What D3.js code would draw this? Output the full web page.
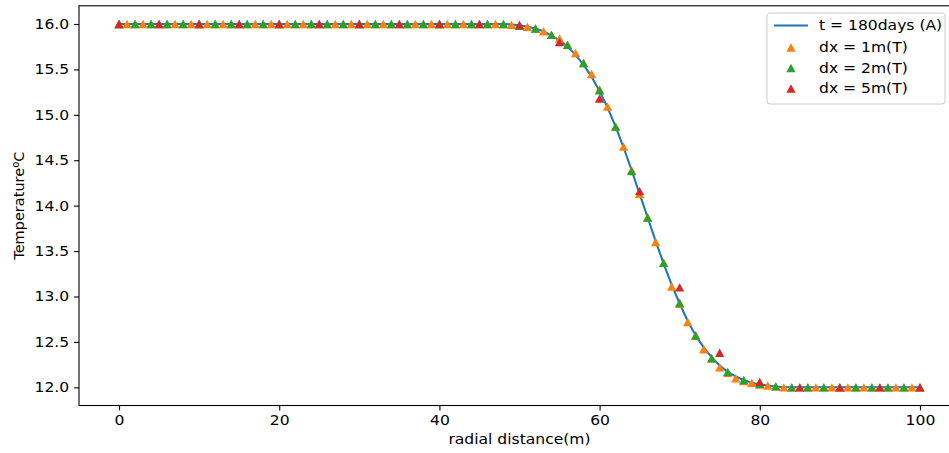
<!DOCTYPE html>
<html>
<head>
<meta charset="utf-8">
<script src="https://cdn.jsdelivr.net/npm/d3@7"></script>
<style>
  body { margin: 0; background: #fff; }
  svg { display: block; }
  text { font-family: "DejaVu Sans", sans-serif; }
</style>
</head>
<body>
<svg id="chart" width="949" height="453"></svg>
<script>
// radial distance grids (m)
var xAnalytic = d3.range(0, 101, 1);
var xDx1 = d3.range(0, 101, 1);
var xDx2 = d3.range(0, 101, 2);
var xDx5 = d3.range(0, 101, 5);

// t = 180days (A)
var analytic = [
  16.0, 16.0, 16.0, 16.0, 16.0, 16.0, 16.0, 16.0, 16.0, 16.0,
  16.0, 16.0, 16.0, 16.0, 16.0, 16.0, 16.0, 16.0, 16.0, 16.0,
  16.0, 16.0, 16.0, 16.0, 16.0, 16.0, 16.0, 16.0, 16.0, 16.0,
  16.0, 16.0, 16.0, 16.0, 16.0, 16.0, 16.0, 16.0, 16.0, 16.0,
  16.0, 16.0, 16.0, 16.0, 16.0, 16.0, 16.0, 16.0, 16.0, 15.995,
  15.985, 15.97, 15.95, 15.92, 15.87, 15.82, 15.75, 15.66, 15.55, 15.42,
  15.26, 15.08, 14.87, 14.64, 14.39, 14.13, 13.87, 13.61, 13.36, 13.13,
  12.92, 12.73, 12.57, 12.44, 12.33, 12.24, 12.17, 12.12, 12.08, 12.05,
  12.03, 12.02, 12.01, 12.0, 12.0, 12.0, 12.0, 12.0, 12.0, 12.0,
  12.0, 12.0, 12.0, 12.0, 12.0, 12.0, 12.0, 12.0, 12.0, 12.0,
  12.0
];
// dx = 1m(T)
var dx1 = [
  16.0, 16.0, 16.0, 16.0, 16.0, 16.0, 16.0, 16.0, 16.0, 16.0,
  16.0, 16.0, 16.0, 16.0, 16.0, 16.0, 16.0, 16.0, 16.0, 16.0,
  16.0, 16.0, 16.0, 16.0, 16.0, 16.0, 16.0, 16.0, 16.0, 16.0,
  16.0, 16.0, 16.0, 16.0, 16.0, 16.0, 16.0, 16.0, 16.0, 16.0,
  16.0, 16.0, 16.0, 16.0, 16.0, 16.0, 16.0, 16.0, 16.0, 15.99,
  15.98, 15.97, 15.95, 15.92, 15.88, 15.84, 15.77, 15.68, 15.57, 15.45,
  15.28, 15.09, 14.87, 14.65, 14.39, 14.13, 13.87, 13.6, 13.37, 13.11,
  12.92, 12.72, 12.57, 12.42, 12.32, 12.22, 12.16, 12.1, 12.07, 12.05,
  12.03, 12.02, 12.01, 12.0, 12.0, 12.0, 12.0, 12.0, 12.0, 12.0,
  12.0, 12.0, 12.0, 12.0, 12.0, 12.0, 12.0, 12.0, 12.0, 12.0,
  12.0
];
// dx = 2m(T)
var dx2 = [
  16.0, 16.0, 16.0, 16.0, 16.0, 16.0, 16.0, 16.0, 16.0, 16.0,
  16.0, 16.0, 16.0, 16.0, 16.0, 16.0, 16.0, 16.0, 16.0, 16.0,
  16.0, 16.0, 16.0, 16.0, 16.0, 15.98, 15.95, 15.88, 15.77, 15.57,
  15.27, 14.87, 14.38, 13.87, 13.37, 12.93, 12.57, 12.32, 12.17, 12.08,
  12.04, 12.01, 12.0, 12.0, 12.0, 12.0, 12.0, 12.0, 12.0, 12.0,
  12.0
];
// dx = 5m(T)
var dx5 = [
  16.0, 16.0, 16.0, 16.0, 16.0, 16.0, 16.0, 16.0, 16.0, 16.0,
  15.99, 15.8, 15.18, 14.16, 13.1, 12.38, 12.06, 12.0, 12.0, 12.0,
  12.0
];

var xTicks = [0, 20, 40, 60, 80, 100];
var yTicks = [12.0, 12.5, 13.0, 13.5, 14.0, 14.5, 15.0, 15.5, 16.0];
var legendLabels = ['t = 180days (A)', 'dx = 1m(T)', 'dx = 2m(T)', 'dx = 5m(T)'];

var colors = ['#1f77b4', '#ff7f0e', '#2ca02c', '#d62728'];
var fontSize = 13.9;
var stretch = 1.12; // the reference is a bit wider than tall

var plotLeft = 79, plotRight = 960, plotTop = 5.8, plotBottom = 405.5;

var svg = d3.select('#chart');

var x = d3.scaleLinear().domain([-5, 105]).range([plotLeft, plotRight]);
var y = d3.scaleLinear().domain([11.8, 16.2]).range([plotBottom, plotTop]);

// analytic curve
var line = d3.line()
  .x(function(d) { return x(d[0]); })
  .y(function(d) { return y(d[1]); });

svg.append('path')
  .datum(d3.zip(xAnalytic, analytic))
  .attr('d', line)
  .attr('fill', 'none')
  .attr('stroke', colors[0])
  .attr('stroke-width', 2.08)
  .attr('stroke-linejoin', 'round')
  .attr('stroke-linecap', 'square');

var triW = 4.6, triH = 4.2;
function triangle(cx, cy) {
  return 'M' + cx + ',' + (cy - triH) +
    'L' + (cx + triW) + ',' + (cy + triH) +
    'L' + (cx - triW) + ',' + (cy + triH) + 'Z';
}

var markerSets = [
  { xs: xDx1, ys: dx1, color: colors[1] },
  { xs: xDx2, ys: dx2, color: colors[2] },
  { xs: xDx5, ys: dx5, color: colors[3] }
];

markerSets.forEach(function(s) {
  svg.append('g')
    .selectAll('path')
    .data(d3.zip(s.xs, s.ys))
    .enter()
    .append('path')
    .attr('d', function(d) { return triangle(x(d[0]), y(d[1])); })
    .attr('fill', s.color);
});

// axes
var xAxis = svg.append('g')
  .attr('class', 'stretch')
  .attr('transform', 'translate(0,' + plotBottom + ')')
  .call(d3.axisBottom(x).tickValues(xTicks).tickFormat(d3.format('d'))
    .tickSize(4.9).tickPadding(4.9).tickSizeOuter(0));

var yAxis = svg.append('g')
  .attr('class', 'stretch')
  .attr('transform', 'translate(' + plotLeft + ',0)')
  .call(d3.axisLeft(y).tickValues(yTicks).tickFormat(d3.format('.1f'))
    .tickSize(4.9).tickPadding(4.9).tickSizeOuter(0));

[xAxis, yAxis].forEach(function(a) {
  a.select('.domain').remove();
  a.selectAll('line').attr('stroke', '#000').attr('stroke-width', 1.1);
  a.selectAll('text')
    .attr('fill', '#000')
    .style('font-size', fontSize + 'px')
    .style('font-family', '"DejaVu Sans", sans-serif');
});

// spines
svg.append('rect')
  .attr('x', plotLeft)
  .attr('y', plotTop)
  .attr('width', plotRight - plotLeft)
  .attr('height', plotBottom - plotTop)
  .attr('fill', 'none')
  .attr('stroke', '#000')
  .attr('stroke-width', 1.1);

// axis labels
svg.append('text')
  .attr('class', 'wide')
  .attr('x', (plotLeft + plotRight) / 2)
  .attr('y', 444)
  .attr('text-anchor', 'middle')
  .style('font-size', fontSize + 'px')
  .text('radial distance(m)');

var yl = svg.append('text')
  .attr('transform', 'translate(24,' + ((plotTop + plotBottom) / 2) + ') rotate(-90)')
  .attr('text-anchor', 'middle')
  .style('font-size', '14.5px');
yl.append('tspan').text('Temperature');
yl.append('tspan').attr('dy', -5).style('font-size', '10px').text('o');
yl.append('tspan').attr('dy', 5).text('C');

// legend
var lg = svg.append('g');
lg.append('rect')
  .attr('x', 767)
  .attr('y', 13)
  .attr('width', 178)
  .attr('height', 91)
  .attr('rx', 3)
  .attr('fill', '#fff')
  .attr('fill-opacity', 0.8)
  .attr('stroke', '#ccc')
  .attr('stroke-width', 1);

var rowY = [25.5, 47.5, 68, 88.5];
lg.append('line')
  .attr('x1', 774).attr('x2', 808)
  .attr('y1', rowY[0]).attr('y2', rowY[0])
  .attr('stroke', colors[0])
  .attr('stroke-width', 2.08);
[1, 2, 3].forEach(function(i) {
  lg.append('path')
    .attr('d', triangle(791, rowY[i]))
    .attr('fill', colors[i]);
});
legendLabels.forEach(function(t, i) {
  lg.append('text')
    .attr('class', 'wide')
    .attr('x', 819)
    .attr('y', rowY[i])
    .attr('dy', '0.35em')
    .style('font-size', fontSize + 'px')
    .text(t);
});

// widen horizontal texts to match the reference proportions
svg.selectAll('.stretch text, text.wide').each(function() {
  var w = this.getComputedTextLength();
  d3.select(this)
    .attr('textLength', w * stretch)
    .attr('lengthAdjust', 'spacingAndGlyphs');
});
</script>
</body>
</html>
